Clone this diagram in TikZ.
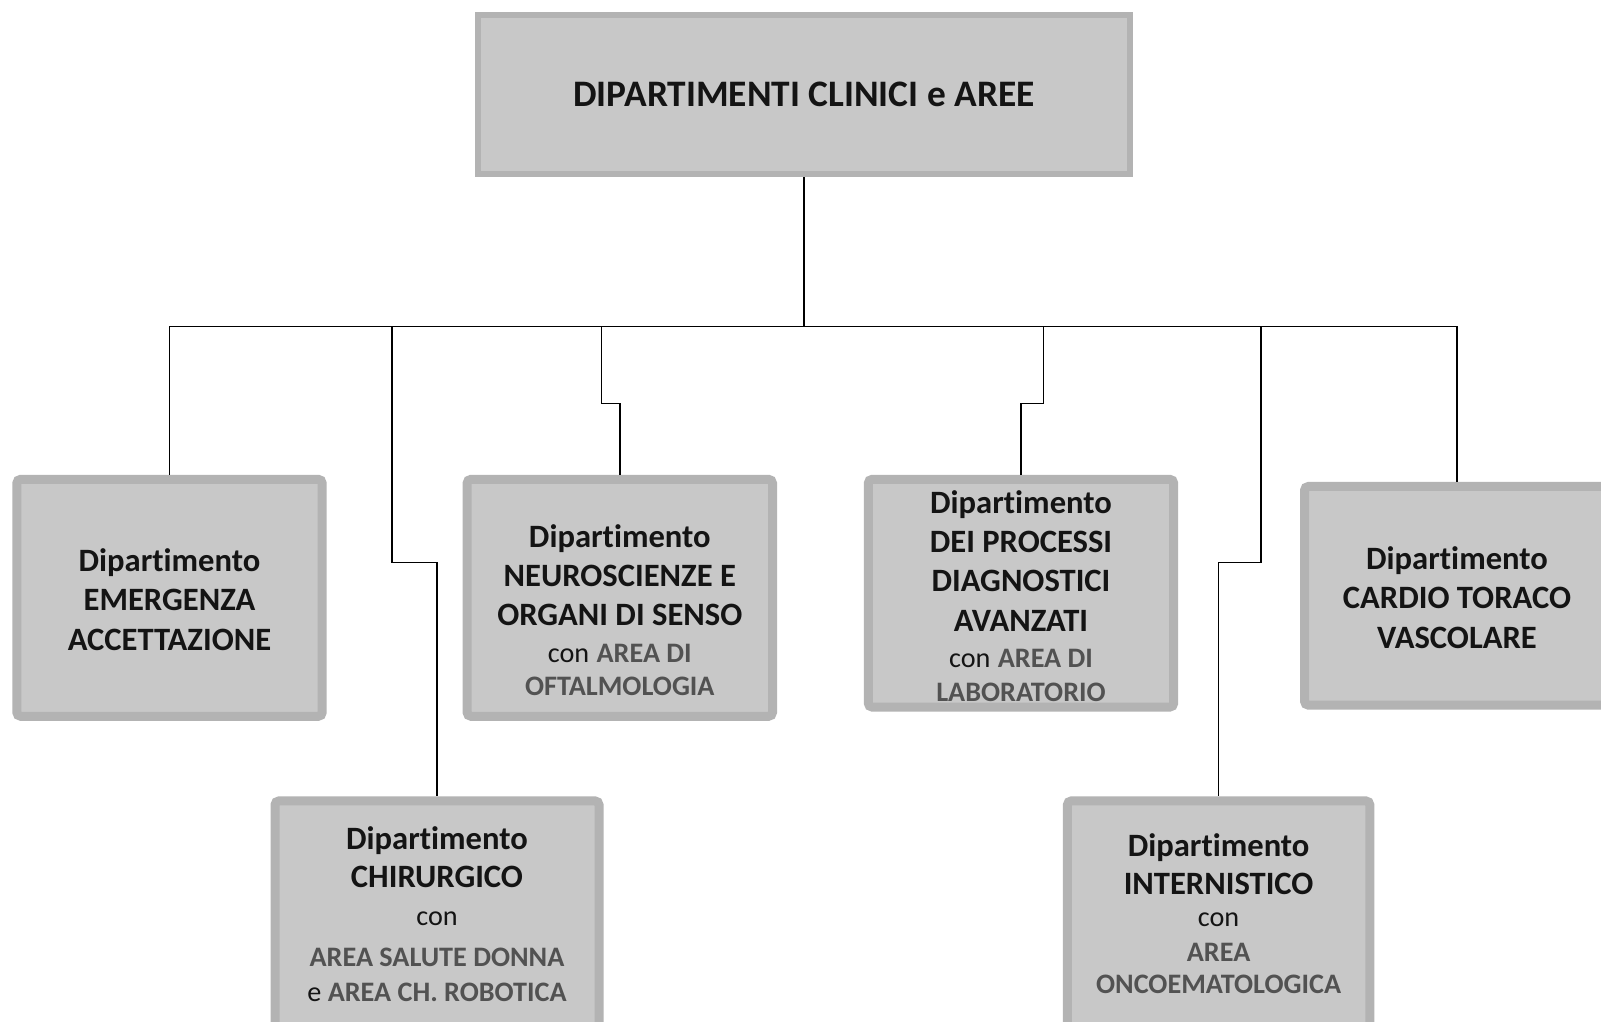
\documentclass[tikz,border=0pt]{standalone}
\usepackage{fontspec}
\setmainfont{Carlito}[RawFeature={-liga;-clig;-calt;-dlig}]
\usetikzlibrary{positioning,calc}

\definecolor{boxfill}{HTML}{C8C8C8}
\definecolor{boxline}{HTML}{B3B3B3}
\definecolor{areagray}{HTML}{525252}
\definecolor{inkdark}{HTML}{141414}

\newcommand{\dipfont}{\fontsize{32.6}{39.3}\selectfont\bfseries}
\newcommand{\subsize}{\fontsize{28.2}{34}\selectfont}
\newcommand{\area}[1]{{\subsize\bfseries\color{areagray}#1}}
\newcommand{\conword}{{\subsize\mdseries con}}

\begin{document}
\begin{tikzpicture}[x=1pt,y=-1pt,
	headbox/.style={draw=boxline, fill=boxfill, line width=6pt, text=inkdark,
		font=\fontsize{37.4}{44}\selectfont\bfseries},
	dept/.style={draw=boxline, fill=boxfill, line width=9pt, rounded corners=4pt},
	deptlabel/.style={anchor=north, align=center, inner sep=0pt, text=inkdark, font=\dipfont},
	link/.style={line width=1.5pt, black}]

	\useasboundingbox (0,0) rectangle (1601,1022);
	\clip (0,0) rectangle (1601,1022);
	\fill[white] (0,0) rectangle (1601,1022);

	\node[headbox, minimum width=652pt, minimum height=159pt] (head) at (804,94.5) {DIPARTIMENTI CLINICI e AREE};

	\node[dept, minimum width=305.4pt, minimum height=237pt] (emerg) at (169.5,597.8) {};
	\node[dept, minimum width=305.4pt, minimum height=237pt] (neuro) at (619.8,597.8) {};
	\node[dept, minimum width=305.4pt, minimum height=227.8pt] (proc) at (1021,593.2) {};
	\node[dept, minimum width=305pt, minimum height=218.7pt] (cardio) at (1457,595.8) {};
	\node[dept, minimum width=324pt, minimum height=234.6pt] (chir) at (437,918.2) {};
	\node[dept, minimum width=302.4pt, minimum height=234.6pt] (inter) at (1218.6,918.2) {};

	\node[deptlabel] (emergt) at (169.5,548.5) {Dipartimento\\EMERGENZA\\ACCETTAZIONE};
	\node[deptlabel] (neurot) at (619.8,524) {Dipartimento\\NEUROSCIENZE E\\ORGANI DI SENSO\\[-2.8pt]
		\conword\ \area{AREA DI}\\[-5.6pt]\area{OFTALMOLOGIA}};
	\node[deptlabel] (proct) at (1021,490.3) {Dipartimento\\DEI PROCESSI\\DIAGNOSTICI\\AVANZATI\\[-2.8pt]
		\conword\ \area{AREA DI}\\[-5.6pt]\area{LABORATORIO}};
	\node[deptlabel] (cardiot) at (1457,546.5) {Dipartimento\\CARDIO TORACO\\VASCOLARE};
	\node[deptlabel] (chirt) at (437,826.2) {Dipartimento\\[-1.5pt]CHIRURGICO\\[-1.2pt]\conword\\[2pt]
		\area{AREA SALUTE DONNA}\\[-4.6pt]{\subsize\mdseries e }\area{AREA CH. ROBOTICA}};
	\node[deptlabel] (intert) at (1218.6,833.4) {Dipartimento\\[-1.6pt]INTERNISTICO\\[-7.3pt]\conword\\[-4.1pt]
		\area{AREA}\\[-6.7pt]\area{ONCOEMATOLOGICA}};

	\coordinate (bus) at (804,326.7);
	\coordinate (chirtap) at (392,326.7);
	\coordinate (neurotap) at (601.4,326.7);
	\coordinate (proctap) at (1043.5,326.7);
	\coordinate (intertap) at (1261,326.7);

	\draw[link] (head.south) -- (bus);
	\draw[link] (emerg.north) |- (bus) -| (cardio.north);
	\draw[link] (chirtap) -- ++(0,235.9) -| (chir.north);
	\draw[link] (neurotap) -- ++(0,76.6) -| (neuro.north);
	\draw[link] (proctap) -- ++(0,76.6) -| (proc.north);
	\draw[link] (intertap) -- ++(0,235.9) -| (inter.north);
\end{tikzpicture}
\end{document}
